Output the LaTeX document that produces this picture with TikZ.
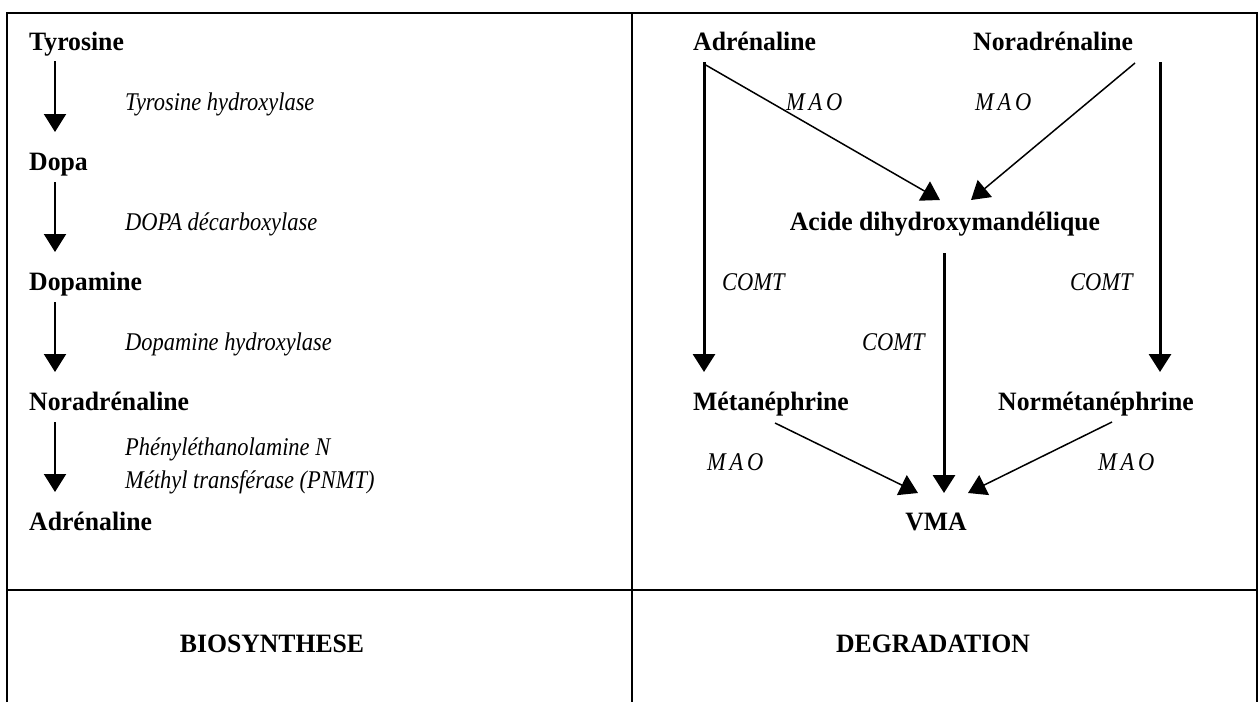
\documentclass[tikz,border=0pt]{standalone}
\usepackage{fontspec}
\setmainfont{Liberation Serif}
\newfontfamily\bfam[FakeStretch=0.97]{Liberation Serif}
\newfontfamily\ifam[FakeStretch=0.88]{Liberation Serif}
\newfontfamily\mfam[FakeStretch=0.88,LetterSpace=15]{Liberation Serif}
\usetikzlibrary{arrows.meta}
\tikzset{
  lbl/.style={inner sep=0pt, font=\bfam\bfseries\fontsize{26.5pt}{30pt}\selectfont},
  enz/.style={inner sep=0pt, anchor=base west, font=\ifam\itshape\fontsize{25.5pt}{30pt}\selectfont},
  mao/.style={inner sep=0pt, anchor=base west, font=\mfam\itshape\fontsize{25.5pt}{30pt}\selectfont},
  grid/.style={line width=1.8pt},
  arrL/.style={line width=2pt, -{Triangle[length=18pt,width=22pt]}},
  arrV/.style={line width=3pt, -{Triangle[length=18pt,width=22pt]}},
  arrD/.style={line width=1.5pt, -{Triangle[length=18pt,width=22pt]}},
}
\begin{document}
\begin{tikzpicture}[x=1pt,y=-1pt]
\useasboundingbox (0,0) rectangle (1260,702);
% table
\draw[grid] (7,702) -- (7,13) -- (1257,13) -- (1257,702);
\draw[grid] (632,13) -- (632,702);
\draw[grid] (7,590) -- (1257,590);

% left panel: biosynthesis
\node[lbl, anchor=base west] (tyr) at (29,50) {Tyrosine};
\node[lbl, anchor=base west] (dopa) at (29,170) {Dopa};
\node[lbl, anchor=base west] (dopamine) at (29,290) {Dopamine};
\node[lbl, anchor=base west] (norL) at (29,410) {Noradrénaline};
\node[lbl, anchor=base west] (adrL) at (29,530) {Adrénaline};

\node[enz] (e1) at (125,110) {Tyrosine hydroxylase};
\node[enz] (e2) at (125,230) {DOPA décarboxylase};
\node[enz] (e3) at (125,350) {Dopamine hydroxylase};
\node[enz] (e4a) at (125,455) {Phényléthanolamine N};
\node[enz] (e4b) at (125,488) {Méthyl transférase (PNMT)};

\draw[arrL] ([xshift=26pt,yshift=-11pt]tyr.base west) -- ([xshift=26pt,yshift=38pt]dopa.base west);
\draw[arrL] ([xshift=26pt,yshift=-12pt]dopa.base west) -- ([xshift=26pt,yshift=38pt]dopamine.base west);
\draw[arrL] ([xshift=26pt,yshift=-12pt]dopamine.base west) -- ([xshift=26pt,yshift=38pt]norL.base west);
\draw[arrL] ([xshift=26pt,yshift=-12pt]norL.base west) -- ([xshift=26pt,yshift=38pt]adrL.base west);

% right panel: degradation
\node[lbl, anchor=base west] (adrR) at (693,50) {Adrénaline};
\node[lbl, anchor=base west] (norR) at (973,50) {Noradrénaline};
\node[lbl, anchor=base] (acide) at (945,230) {Acide dihydroxymandélique};
\node[lbl, anchor=base west] (metR) at (693,410) {Métanéphrine};
\node[lbl, anchor=base west] (normR) at (998,410) {Normétanéphrine};
\node[lbl, anchor=base] (vma) at (936,530) {VMA};

\node[mao] (m1) at (786,110) {MAO};
\node[mao] (m2) at (975,110) {MAO};
\node[enz] (c1) at (722,290) {COMT};
\node[enz] (c2) at (1070,290) {COMT};
\node[enz] (c3) at (862,350) {COMT};
\node[mao] (m3) at (707,470) {MAO};
\node[mao] (m4) at (1098,470) {MAO};

\draw[arrV] ([xshift=11pt,yshift=-12pt]adrR.base west) -- ([xshift=11pt,yshift=38pt]metR.base west);
\draw[arrV] ([xshift=187pt,yshift=-12pt]norR.base west) -- ([xshift=162pt,yshift=38pt]normR.base west);
\draw[arrD] ([xshift=11pt,yshift=-14pt]adrR.base west) -- ([xshift=-5pt,yshift=30pt]acide.base);
\draw[arrD] ([xshift=162pt,yshift=-13pt]norR.base west) -- ([xshift=26pt,yshift=30pt]acide.base);
\draw[arrV] ([xshift=-1pt,yshift=-23pt]acide.base) -- ([xshift=8pt,yshift=37pt]vma.base);
\draw[arrD] ([xshift=82pt,yshift=-13pt]metR.base west) -- ([xshift=-18pt,yshift=37pt]vma.base);
\draw[arrD] ([xshift=114pt,yshift=-12pt]normR.base west) -- ([xshift=32pt,yshift=37pt]vma.base);

% bottom labels
\node[lbl, anchor=base] (bio) at (272,652) {BIOSYNTHESE};
\node[lbl, anchor=base] (deg) at (933,652) {DEGRADATION};
\end{tikzpicture}
\end{document}
